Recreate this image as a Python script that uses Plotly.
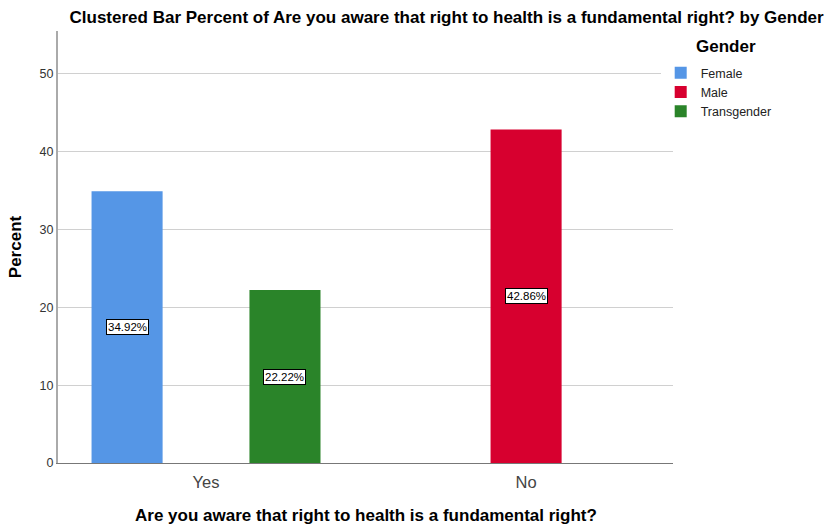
import plotly.graph_objects as go

categories = ["Yes", "No"]
genders = ["Female", "Male", "Transgender"]
female = [34.92, None]
male = [None, 42.86]
transgender = [22.22, None]
colors = ["#5596e6", "#d7002f", "#2a8429"]
y_ticks = [0, 10, 20, 30, 40, 50]

series = [female, male, transgender]
bargap = 0.26

fig = go.Figure()
for name, vals, col in zip(genders, series, colors):
    fig.add_trace(go.Bar(x=categories, y=vals, name=name, marker_color=col,
                         marker_line_width=0))

# label boxes in the middle of each bar
n = len(genders)
step = (1 - bargap) / n
for k, vals in enumerate(series):
    for i, v in enumerate(vals):
        if v is None:
            continue
        fig.add_annotation(x=i + (k - (n - 1) / 2) * step, y=v / 2, xref="x", yref="y",
                           text=f"{v:.2f}%", showarrow=False,
                           font=dict(size=11.5, color="black", family="Liberation Sans"),
                           bgcolor="white", bordercolor="black", borderwidth=1, borderpad=1)

# legend title and x-axis title as separate text
fig.add_annotation(xref="x domain", yref="y domain", x=1.034, y=0.963,
                   text="<b>Gender</b>", showarrow=False, xanchor="left", yanchor="middle",
                   font=dict(size=17, color="black"))
fig.add_annotation(xref="x domain", yref="y domain", x=0.5, y=0, yshift=-52,
                   text="<b>Are you aware that right to health is a fundamental right?</b>",
                   showarrow=False, xanchor="center", yanchor="middle",
                   font=dict(size=17, color="black"))

fig.update_layout(
    width=827, height=527,
    margin=dict(l=58, r=154, t=31, b=64),
    paper_bgcolor="white", plot_bgcolor="white",
    barmode="group", bargap=bargap, bargroupgap=0.1,
    font=dict(family="Liberation Sans", color="#333"),
    title=dict(text="<b>Clustered Bar Percent of Are you aware that right to health is a fundamental right? by Gender</b>",
               x=0.54, xanchor="center", y=0.967, yanchor="middle",
               font=dict(size=17, color="black")),
    legend=dict(x=0.98, xanchor="left", y=0.9375, yanchor="top",
                font=dict(size=12.5, color="#222"), tracegroupgap=0, itemwidth=30),
    showlegend=True,
)
fig.update_xaxes(type="category", range=[-0.4625, 1.459], automargin=False,
                 showline=True, linecolor="#777", linewidth=1,
                 ticks="", ticklabelstandoff=4, tickfont=dict(size=16.5, color="#444"))
fig.update_yaxes(range=[0, 55.5], tickvals=y_ticks, automargin=False,
                 showgrid=True, gridcolor="#d0d0d0", gridwidth=1,
                 showline=True, linecolor="#aaa", linewidth=2, zeroline=False,
                 ticks="", tickfont=dict(size=12.5, color="#333"),
                 title=dict(text="<b>Percent</b>", font=dict(size=17, color="black"), standoff=14))

fig.write_html("out.html", config={"displayModeBar": False},
               post_script="document.body.style.margin='0';")
